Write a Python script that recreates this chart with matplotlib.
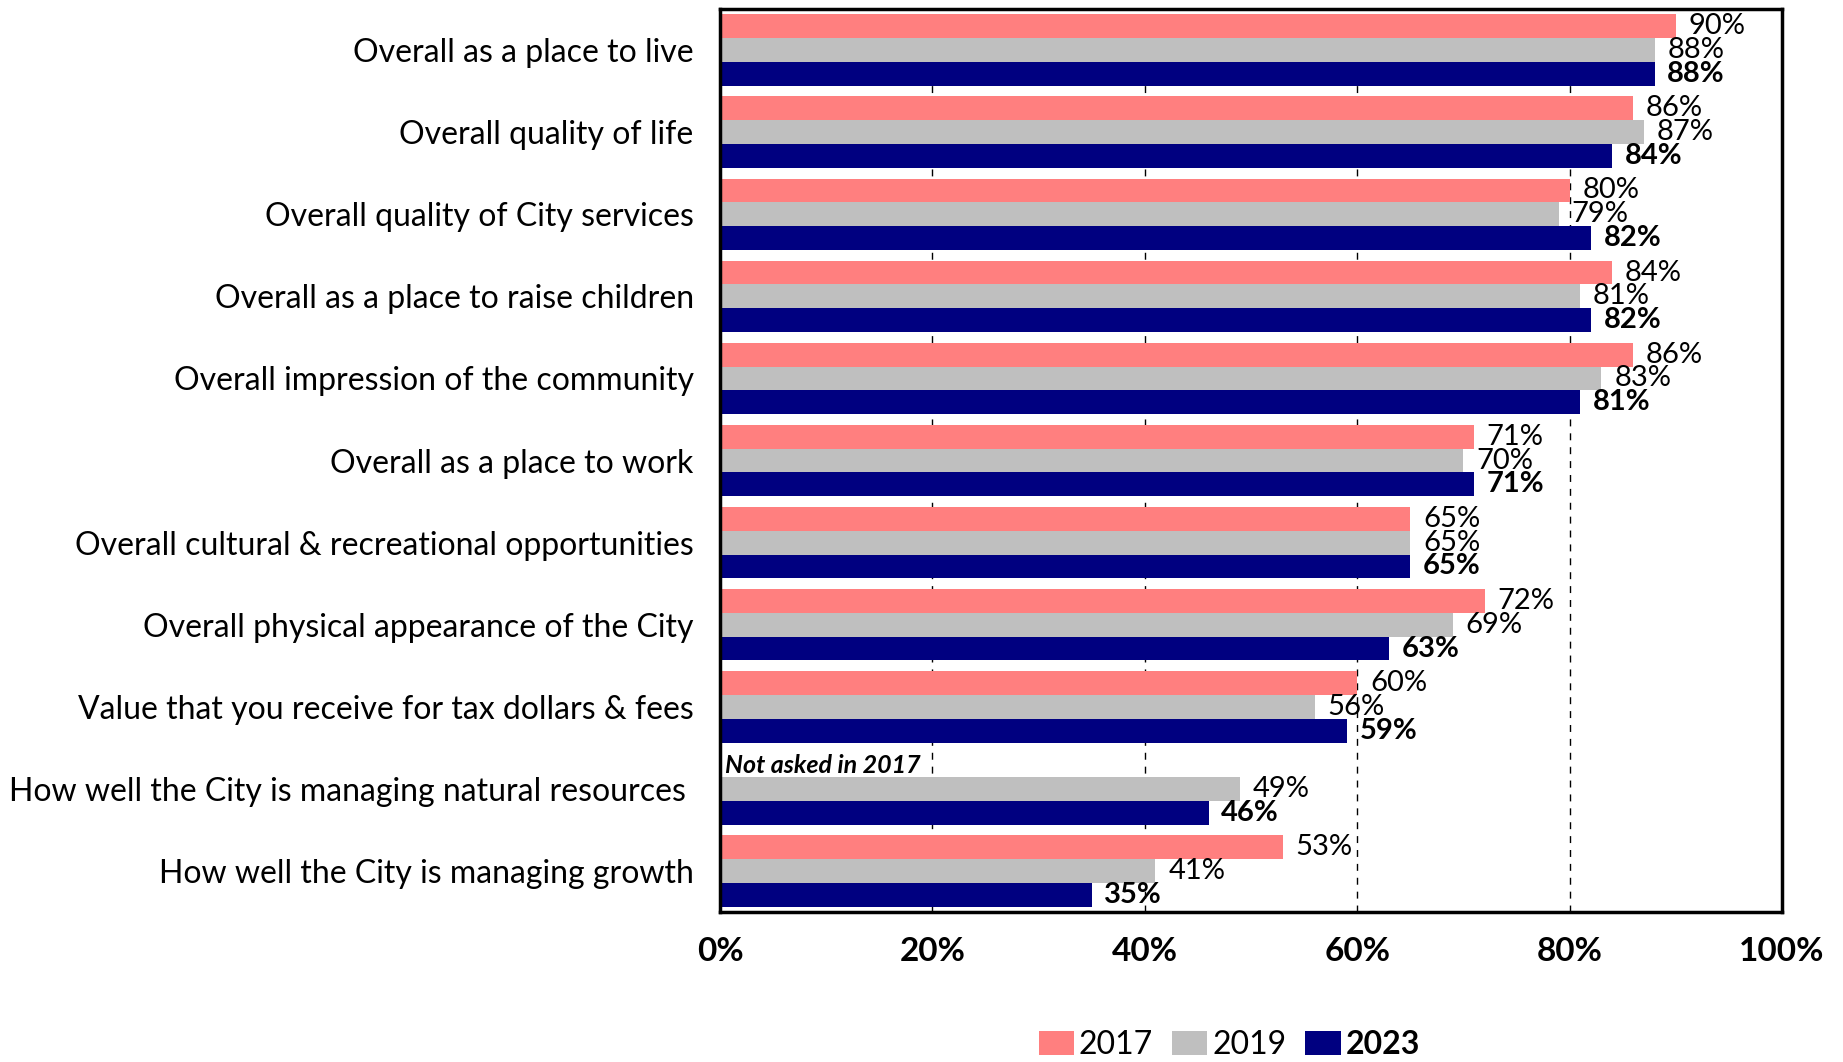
import matplotlib.pyplot as plt
import numpy as np
from matplotlib.patches import Patch

plt.rcParams['font.family'] = ['Lato', 'DejaVu Sans']

categories = [
    'Overall as a place to live',
    'Overall quality of life',
    'Overall quality of City services',
    'Overall as a place to raise children',
    'Overall impression of the community',
    'Overall as a place to work',
    'Overall cultural & recreational opportunities',
    'Overall physical appearance of the City',
    'Value that you receive for tax dollars & fees',
    'How well the City is managing natural resources ',
    'How well the City is managing growth',
]
vals_2017 = [90, 86, 80, 84, 86, 71, 65, 72, 60, None, 53]
vals_2019 = [88, 87, 79, 81, 83, 70, 65, 69, 56, 49, 41]
vals_2023 = [88, 84, 82, 82, 81, 71, 65, 63, 59, 46, 35]
years = ['2017', '2019', '2023']
colors = ['#FF7F7F', '#BFBFBF', '#000080']
xticks = [0, 20, 40, 60, 80, 100]

fig = plt.figure(figsize=(18.43, 10.62), dpi=100)
ax = fig.add_axes([0.3907, 0.1412, 0.5762, 0.8503])

h = 0.29
y = np.arange(len(categories))
series = [vals_2017, vals_2019, vals_2023]

for k, (vals, color) in enumerate(zip(series, colors)):
    offset = (k - 1) * h
    for i, v in enumerate(vals):
        if v is None:
            continue
        ax.barh(y[i] + offset, v, height=h, color=color, zorder=2)
        ax.text(v + 1.2, y[i] + offset, f'{v}%', va='center', ha='left',
                fontsize=21, fontweight='bold' if k == 2 else 'normal',
                zorder=3)

# question added after the 2017 survey
ax.text(0.5, 9 - h, 'Not asked in 2017', va='center', ha='left',
        fontsize=18, fontweight='bold', fontstyle='italic', zorder=3)

ax.set_xlim(0, 100)
ax.set_ylim(len(categories) - 0.5, -0.5)
ax.set_xticks(xticks)
ax.set_xticklabels([f'{t}%' for t in xticks], fontsize=24, fontweight='bold')
ax.set_yticks(y)
ax.set_yticklabels(categories, fontsize=23)
ax.tick_params(axis='y', length=0, pad=19)
ax.tick_params(axis='x', length=0, pad=18)

for x in xticks[1:-1]:
    ax.axvline(x, color='black', linewidth=1, linestyle=(0, (5, 5)), zorder=1)

for s in ax.spines.values():
    s.set_linewidth(2.5)
    s.set_color('black')

handles = [Patch(facecolor=c, edgecolor='none') for c in colors]
leg = fig.legend(handles, years, loc='center', bbox_to_anchor=(0.667, 0.016),
                 ncol=3, frameon=False, fontsize=23, handlelength=1.1,
                 handleheight=0.75, handletextpad=0.15, columnspacing=0.6,
                 borderpad=0.1)
leg.get_texts()[2].set_fontweight('bold')

fig.savefig('out.png', dpi=100)
